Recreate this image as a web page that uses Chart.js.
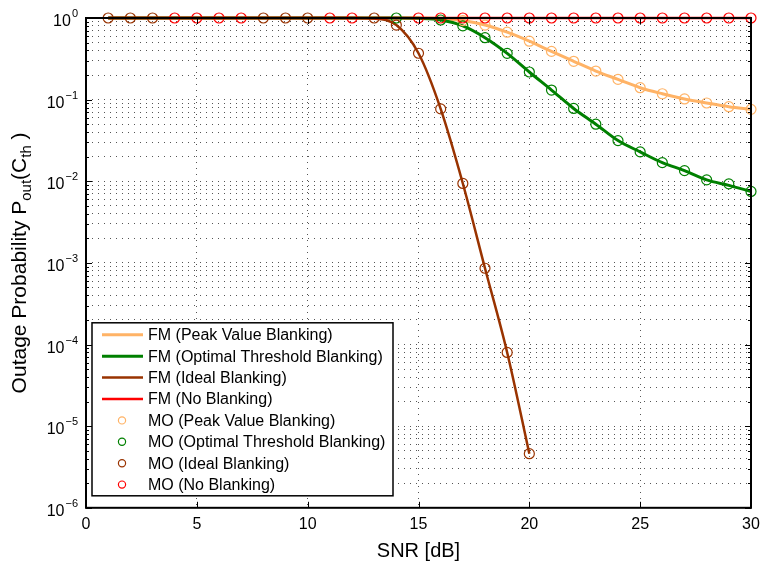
<!DOCTYPE html>
<html>
<head>
<meta charset="utf-8">
<script src="https://cdn.jsdelivr.net/npm/chart.js@4/dist/chart.umd.min.js"></script>
<style>
  html, body { margin: 0; padding: 0; background: #fff; }
  #wrap { width: 760px; height: 570px; }
</style>
</head>
<body>
<div id="wrap"><canvas id="outageChart"></canvas></div>
<script>
// SNR axis (dB)
const snr = [1, 2, 3, 4, 5, 6, 7, 8, 9, 10, 11, 12, 13, 14, 15,
             16, 17, 18, 19, 20, 21, 22, 23, 24, 25, 26, 27, 28, 29, 30];

// FM (analytical) curves
const fmPeak = [1, 1, 1, 1, 1, 1, 1, 1, 1, 1, 1, 1, 1, 1, 0.998,
                0.985, 0.93, 0.82, 0.67, 0.52, 0.39, 0.295, 0.224, 0.177, 0.14, 0.118, 0.102, 0.091, 0.082, 0.076];
const fmOptimal = [1, 1, 1, 1, 1, 1, 1, 1, 1, 1, 1, 1, 1, 1, 0.99,
                   0.945, 0.8, 0.574, 0.369, 0.218, 0.131, 0.078, 0.05, 0.0315, 0.0229, 0.0169, 0.0135, 0.0104, 0.0089, 0.0075];
const fmIdeal = [1, 1, 1, 1, 1, 1, 1, 1, 1, 1, 1, 1, 0.985, 0.82, 0.37,
                 0.077, 0.0094, 0.00086, 0.00008, 0.0000046];
const fmNone = [1, 1, 1, 1, 1, 1, 1, 1, 1, 1, 1, 1, 1, 1, 1,
                1, 1, 1, 1, 1, 1, 1, 1, 1, 1, 1, 1, 1, 1, 1];

// MO (simulation) markers, only the ones visible in the picture
const moPeak = [null, null, null, null, null, null, null, null, null, null, null, null, null, null, null,
                null, 0.93, 0.82, 0.67, 0.52, 0.39, 0.295, 0.224, 0.177, 0.14, 0.118, 0.102, 0.091, 0.082, 0.076];
const moOptimal = [null, null, null, null, null, null, null, null, null, null, null, null, null, 1, null,
                   0.945, 0.8, 0.574, 0.369, 0.218, 0.131, 0.078, 0.05, 0.0315, 0.0229, 0.0169, 0.0135, 0.0104, 0.0093, 0.0075];
const moIdeal = [1, 1, 1, null, null, null, null, 1, 1, 1, null, null, 1, 0.82, 0.37,
                 0.077, 0.0094, 0.00086, 0.00008, 0.0000046];
const moNone = [null, null, null, 1, 1, 1, 1, null, null, null, 1, 1, null, null, 1,
                1, 1, 1, 1, 1, 1, 1, 1, 1, 1, 1, 1, 1, 1, 1];

const xTicks = [0, 5, 10, 15, 20, 25, 30];
const yExponents = [0, -1, -2, -3, -4, -5, -6];

const colPeak = "#FFB366";
const colOptimal = "#008000";
const colIdeal = "#993300";
const colNone = "#FF0000";

function toPoints(values) {
    return values.map((v, i) => ({ x: snr[i], y: v })).filter(p => p.y !== null);
}

// 1..9 x 10^k grid values for the log axis
const yGrid = [];
for (let k = -6; k < 0; k++) {
    for (let m = 1; m <= 9; m++) yGrid.push(m * Math.pow(10, k));
}
yGrid.push(1);

function fmSet(label, values, color, width, order) {
    return {
        label: label, data: toPoints(values), borderColor: color, backgroundColor: color,
        borderWidth: width, pointRadius: 0, showLine: true, clip: false,
        cubicInterpolationMode: "monotone", order: order, kind: "line"
    };
}
function moSet(label, values, color, order) {
    return {
        label: label, data: toPoints(values), borderColor: color, backgroundColor: "rgba(0,0,0,0)",
        showLine: false, pointStyle: "circle", pointRadius: 5, pointBorderWidth: 1.2, clip: false,
        pointBorderColor: color, pointBackgroundColor: "rgba(0,0,0,0)", order: order, kind: "marker"
    };
}

const datasets = [
    fmSet("FM (Peak Value Blanking)", fmPeak, colPeak, 3, 8),
    fmSet("FM (Optimal Threshold Blanking)", fmOptimal, colOptimal, 3, 7),
    fmSet("FM (Ideal Blanking)", fmIdeal, colIdeal, 2.5, 6),
    fmSet("FM (No Blanking)", fmNone, colNone, 2.5, 5),
    moSet("MO (Peak Value Blanking)", moPeak, colPeak, 3),
    moSet("MO (Optimal Threshold Blanking)", moOptimal, colOptimal, 2),
    moSet("MO (Ideal Blanking)", moIdeal, colIdeal, 1),
    moSet("MO (No Blanking)", moNone, colNone, 0)
];

// box, inward ticks, log tick labels, y label with subscripts, legend
const matlabAxes = {
    id: "matlabAxes",
    afterDatasetsDraw(chart) {
        const ctx = chart.ctx, ca = chart.chartArea;
        const xs = chart.scales.x, ys = chart.scales.y;
        ctx.save();
        ctx.strokeStyle = "#000";
        ctx.lineWidth = 1;
        ctx.beginPath();
        xTicks.forEach(v => {
            const px = Math.round(xs.getPixelForValue(v)) + 0.5;
            ctx.moveTo(px, ca.bottom); ctx.lineTo(px, ca.bottom - 6);
            ctx.moveTo(px, ca.top); ctx.lineTo(px, ca.top + 6);
        });
        yGrid.forEach(v => {
            const py = Math.round(ys.getPixelForValue(v)) + 0.5;
            const major = Math.abs(Math.log10(v) - Math.round(Math.log10(v))) < 1e-9;
            const len = major ? 6 : 3;
            ctx.moveTo(ca.left, py); ctx.lineTo(ca.left + len, py);
            ctx.moveTo(ca.right, py); ctx.lineTo(ca.right - len, py);
        });
        ctx.stroke();
        ctx.lineWidth = 2;
        ctx.strokeRect(ca.left, ca.top, ca.right - ca.left, ca.bottom - ca.top);
        ctx.restore();
    },
    afterDraw(chart) {
        const ctx = chart.ctx, ca = chart.chartArea;
        const ys = chart.scales.y;
        ctx.save();
        ctx.fillStyle = "#000";
        ctx.textBaseline = "alphabetic";

        // y tick labels 10^k
        yExponents.forEach(k => {
            const py = ys.getPixelForValue(Math.pow(10, k));
            const ex = k === 0 ? "0" : "\u2212" + Math.abs(k);
            ctx.font = "11px 'Liberation Sans', Arial, sans-serif";
            const we = ctx.measureText(ex).width;
            const right = ca.left - 8;
            ctx.textAlign = "left";
            ctx.fillText(ex, right - we, py - 1);
            ctx.font = "16px 'Liberation Sans', Arial, sans-serif";
            ctx.textAlign = "right";
            ctx.fillText("10", right - we - 1, py + 8);
        });

        // y axis title with subscripts
        const parts = [
            ["Outage Probability P", 21, 0],
            ["out", 15, 5],
            ["(C", 21, 0],
            ["th", 15, 5],
            [" )", 21, 0]
        ];
        let total = 0;
        parts.forEach(p => {
            ctx.font = p[1] + "px 'Liberation Sans', Arial, sans-serif";
            total += ctx.measureText(p[0]).width;
        });
        ctx.translate(26, (ca.top + ca.bottom) / 2);
        ctx.rotate(-Math.PI / 2);
        ctx.textAlign = "left";
        let cx = -total / 2;
        parts.forEach(p => {
            ctx.font = p[1] + "px 'Liberation Sans', Arial, sans-serif";
            ctx.fillText(p[0], cx, p[2]);
            cx += ctx.measureText(p[0]).width;
        });
        ctx.setTransform(1, 0, 0, 1, 0, 0);

        // legend inside the axes, lower left
        const lx = ca.left + 6, ly = ca.bottom - 185, lw = 301, lh = 173;
        ctx.fillStyle = "#fff";
        ctx.fillRect(lx, ly, lw, lh);
        ctx.strokeStyle = "#000";
        ctx.lineWidth = 1.5;
        ctx.strokeRect(lx, ly, lw, lh);
        ctx.font = "16px 'Liberation Sans', Arial, sans-serif";
        ctx.textBaseline = "middle";
        ctx.textAlign = "left";
        datasets.forEach((ds, i) => {
            const ry = ly + 12 + i * 21.4;
            if (ds.kind === "line") {
                ctx.strokeStyle = ds.borderColor;
                ctx.lineWidth = ds.borderWidth;
                ctx.beginPath();
                ctx.moveTo(lx + 10, ry); ctx.lineTo(lx + 51, ry);
                ctx.stroke();
            } else {
                ctx.strokeStyle = ds.borderColor;
                ctx.lineWidth = 1.2;
                ctx.beginPath();
                ctx.arc(lx + 30, ry, 3.6, 0, Math.PI * 2);
                ctx.stroke();
            }
            ctx.fillStyle = "#000";
            ctx.fillText(ds.label, lx + 56, ry + 1);
        });
        ctx.restore();
    }
};

const chart = new Chart(document.getElementById("outageChart").getContext("2d"), {
    type: "scatter",
    data: { datasets: datasets },
    options: {
        responsive: true,
        maintainAspectRatio: false,
        animation: false,
        layout: { autoPadding: false, padding: { left: 86, right: 9, top: 18, bottom: 0 } },
        plugins: { legend: { display: false }, tooltip: { enabled: false } },
        scales: {
            x: {
                type: "linear", min: 0, max: 30,
                afterBuildTicks: (scale) => { scale.ticks = xTicks.map(v => ({ value: v })); },
                afterFit: (scale) => { scale.paddingLeft = 0; scale.paddingRight = 0; },
                ticks: {
                    color: "#000", padding: 7,
                    font: { family: "'Liberation Sans', Arial, sans-serif", size: 16 }
                },
                grid: {
                    drawTicks: false, lineWidth: 1,
                    color: (c) => (c.tick && (c.tick.value === 0 || c.tick.value === 30)) ? "rgba(0,0,0,0)" : "#555"
                },
                border: { display: false, dash: [1, 5] },
                title: {
                    display: true, text: "SNR [dB]", color: "#000",
                    font: { family: "'Liberation Sans', Arial, sans-serif", size: 20, lineHeight: 1 },
                    padding: { top: 0, bottom: 9 }
                }
            },
            y: {
                type: "logarithmic", min: 1e-6, max: 1,
                afterBuildTicks: (scale) => { scale.ticks = yGrid.map(v => ({ value: v })); },
                ticks: { display: false },
                grid: {
                    drawTicks: false, lineWidth: 1,
                    color: (c) => (c.tick && (c.tick.value <= 1e-6 || c.tick.value >= 1)) ? "rgba(0,0,0,0)" : "#555"
                },
                border: { display: false, dash: [1, 5] }
            }
        }
    },
    plugins: [matlabAxes]
});
</script>
</body>
</html>
